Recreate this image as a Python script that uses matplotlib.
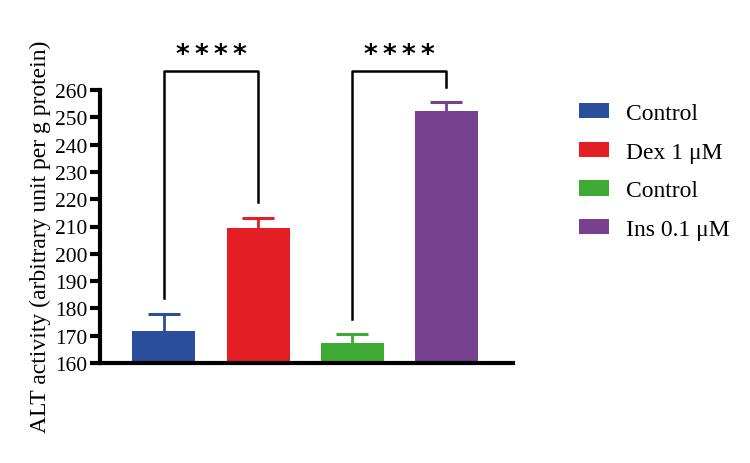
import matplotlib
matplotlib.use("Agg")
import matplotlib.pyplot as plt
from matplotlib.patches import Patch

labels = ["Control", "Dex 1 \u03bcM", "Control", "Ins 0.1 \u03bcM"]
values = [171.8, 209.6, 167.4, 252.2]
errors = [6.3, 3.6, 3.3, 3.5]
colors = ["#2a4e9b", "#e31e24", "#3fa935", "#774190"]
yticks = list(range(160, 261, 10))
stars = "*\u2009*\u2009*\u2009*"
# significance brackets: (left bar, right bar, top y, left leg end, right leg end, text)
brackets = [(0, 1, 267, 183.8, 219.0, stars), (2, 3, 267, 176.0, 261.0, stars)]

plt.rcParams['font.family'] = ['Liberation Serif', 'DejaVu Serif']

fig = plt.figure(figsize=(7.5, 4.64), dpi=100)
ax = fig.add_axes([100/750, 1-364/464, 413/750, 273/464])

x = list(range(len(values)))
capw = 0.17
for i in x:
    ax.bar(i, values[i] - 160, bottom=160, width=0.67, color=colors[i], zorder=2)
    ax.vlines(i, values[i], values[i] + errors[i], color=colors[i], lw=2, zorder=1)
    ax.hlines(values[i] + errors[i], i - capw, i + capw, color=colors[i], lw=2.2, zorder=1)

for (a, b, top, la, lb, txt) in brackets:
    ax.plot([a, a, b, b], [la, top, top, lb], color='black', lw=1.8, clip_on=False)
    ax.text((a + b) / 2, top + 1.2, txt, ha='center', va='bottom', fontsize=19,
            fontweight='bold', family='DejaVu Sans', clip_on=False)

ax.set_xlim(-0.68, 3.71)
ax.set_ylim(160, 260)
ax.set_yticks(yticks)
ax.set_xticks([])
ax.tick_params(axis='y', direction='out', length=7, width=3, labelsize=15.5, pad=2)
for s in ['top', 'right']:
    ax.spines[s].set_visible(False)
for s in ['left', 'bottom']:
    ax.spines[s].set_linewidth(3)
ax.set_ylabel("ALT activity (arbitrary unit per g protein)", fontsize=17)
ax.yaxis.set_label_coords(-49/413, 0.465)

handles = [Patch(facecolor=c, edgecolor='none') for c in colors]
fig.legend(handles, labels, loc='upper left', bbox_to_anchor=(579/750, 1-104/464),
           frameon=False, fontsize=17, handlelength=1.25, handleheight=0.62,
           labelspacing=0.75, handletextpad=0.75, borderaxespad=0, borderpad=0)

fig.savefig("out.png", dpi=100)
